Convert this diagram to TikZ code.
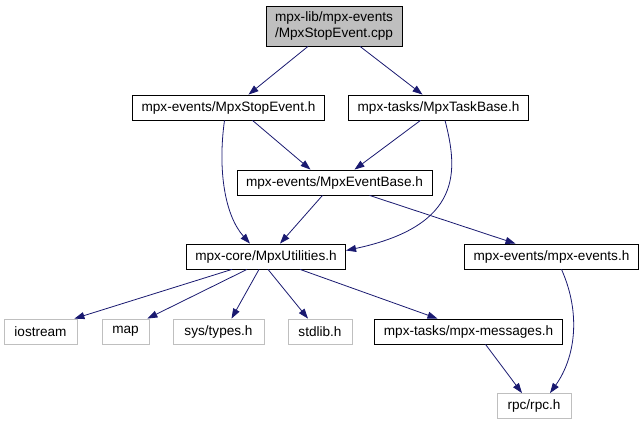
\documentclass[tikz,border=0pt]{standalone}
\usepackage{fontspec}
\setmainfont{Liberation Sans}
\usetikzlibrary{arrows.meta}
\definecolor{incEdge}{HTML}{191970}
\definecolor{incGrey}{HTML}{BFBFBF}
\tikzset{
  inc-file/.style={
    rectangle, draw=black, fill=white, line width=0.8pt,
    minimum height=25pt, inner xsep=9pt, inner ysep=0pt,
    font=\fontsize{13.6}{16}\selectfont
  },
  inc-sys/.style={inc-file, draw=incGrey},
  inc-root/.style={inc-file, fill=incGrey, align=center, minimum height=40pt},
  inc-edge/.style={-{Triangle[length=10pt,width=7pt]}, line width=0.8pt, draw=incEdge},
}

\begin{document}
\begin{tikzpicture}[x=1pt, y=-1pt]
  \useasboundingbox (0,0) rectangle (644,425);

  \node[inc-root]  (root)   at (334,26)    {mpx-lib/mpx-events\\/MpxStopEvent.cpp};
  \node[inc-file]  (stop)   at (228.5,107.5) {mpx-events/MpxStopEvent.h};
  \node[inc-file]  (task)   at (438.5,107.5) {mpx-tasks/MpxTaskBase.h};
  \node[inc-file]  (evbase) at (334.5,182.5) {mpx-events/MpxEventBase.h};
  \node[inc-file]  (util)   at (266,256.5)   {mpx-core/MpxUtilities.h};
  \node[inc-file]  (mpxev)  at (551.5,256.5) {mpx-events/mpx-events.h};
  \node[inc-sys, minimum width=73pt] (io)     at (40.5,331.5)  {iostream};
  \node[inc-sys, minimum width=47pt] (map)    at (125.5,331.5) {map};
  \node[inc-sys, minimum width=91pt] (types)  at (218.5,331.5) {sys/types.h};
  \node[inc-sys, minimum width=64pt] (stdlib) at (320,331.5)   {stdlib.h};
  \node[inc-file]  (msg)    at (468.5,331.5) {mpx-tasks/mpx-messages.h};
  \node[inc-sys, minimum width=74pt] (rpc)    at (534,406)     {rpc/rpc.h};

  \draw[inc-edge] ([xshift=-26pt]root.south) -- ([xshift=20pt]stop.north);
  \draw[inc-edge] ([xshift=26pt]root.south) -- ([xshift=-16pt]task.north);
  \draw[inc-edge] ([xshift=24pt]stop.south) -- ([xshift=-24pt]evbase.north);
  \draw[inc-edge] ([xshift=-4pt]stop.south) .. controls +(-7,50) and +(-25,-28) .. ([xshift=-16pt]util.north);
  \draw[inc-edge] ([xshift=-18pt]task.south) -- ([xshift=20pt]evbase.north);
  \draw[inc-edge] ([xshift=6.5pt]task.south) .. controls +(13,50) and +(117,-25) .. ([yshift=6pt]util.east);
  \draw[inc-edge] ([xshift=-12pt]evbase.south) -- ([xshift=14pt]util.north);
  \draw[inc-edge] ([xshift=35pt]evbase.south) -- ([xshift=-36pt]mpxev.north);
  \draw[inc-edge] ([xshift=-34pt]util.south) -- ([xshift=-3pt]io.north east);
  \draw[inc-edge] ([xshift=-19pt]util.south) -- ([xshift=-2pt]map.north east);
  \draw[inc-edge] ([xshift=-7pt]util.south) -- ([xshift=13pt]types.north);
  \draw[inc-edge] ([xshift=2pt]util.south) -- ([xshift=-12pt]stdlib.north);
  \draw[inc-edge] ([xshift=34pt]util.south) -- ([xshift=-31pt]msg.north);
  \draw[inc-edge] ([xshift=17pt]msg.south) -- ([xshift=-12pt]rpc.north);
  \draw[inc-edge] ([xshift=10pt]mpxev.south) .. controls +(20,45) and +(25,-35) .. ([xshift=16pt]rpc.north);
\end{tikzpicture}
\end{document}
